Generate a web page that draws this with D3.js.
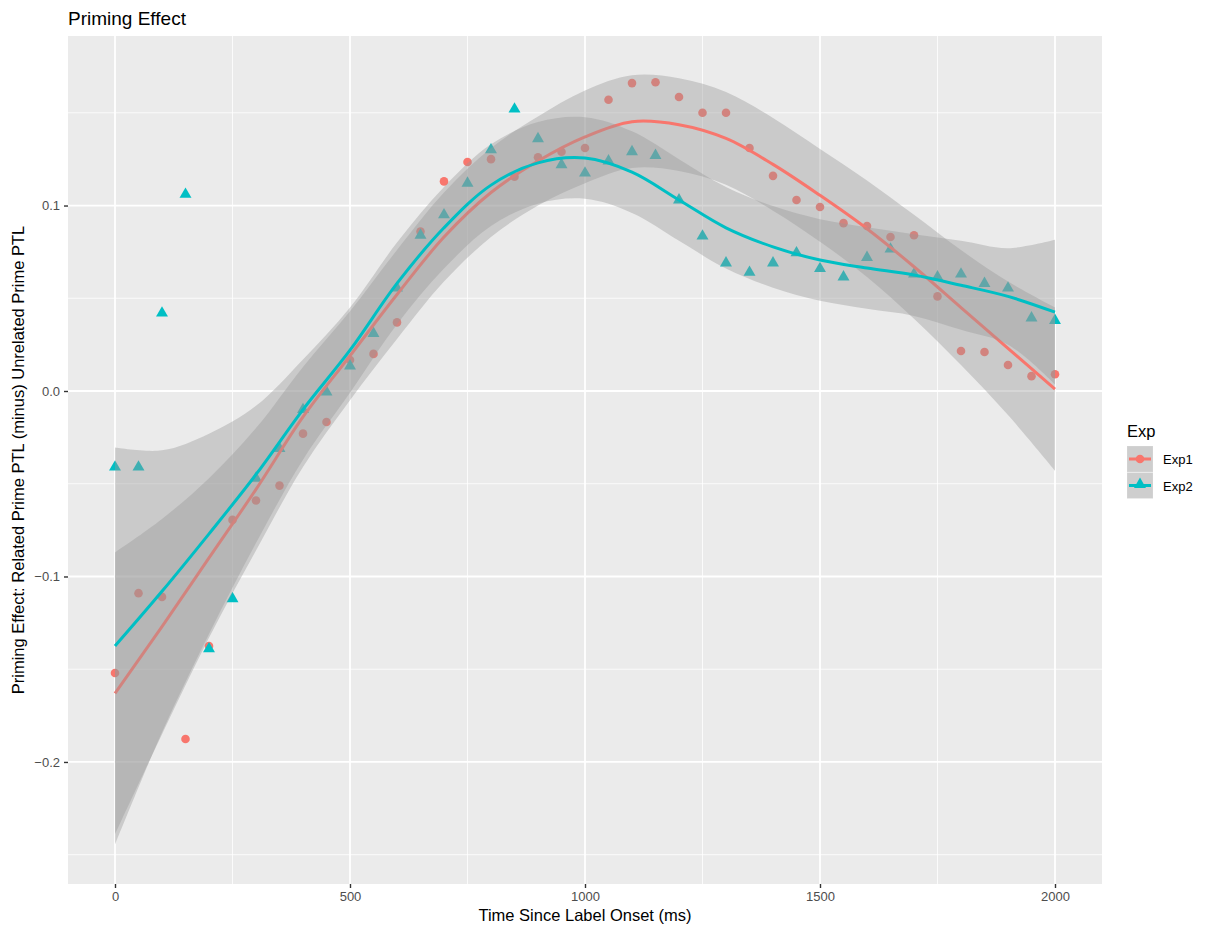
<!DOCTYPE html>
<html>
<head>
<meta charset="utf-8">
<script src="https://cdn.jsdelivr.net/npm/d3@7"></script>
<style>
body { margin: 0; background: #fff; }
text { font-family: "Liberation Sans", Arial, sans-serif; }
</style>
</head>
<body>
<div id="chart"></div>
<script>
// raw points, one every 50 ms
var timePoints = [0, 50, 100, 150, 200, 250, 300, 350, 400, 450, 500, 550, 600, 650, 700, 750, 800, 850, 900, 950,
  1000, 1050, 1100, 1150, 1200, 1250, 1300, 1350, 1400, 1450, 1500, 1550, 1600, 1650, 1700, 1750, 1800, 1850, 1900, 1950, 2000]

var exp1Values = [-0.152, -0.109, -0.111, -0.1876, -0.1375, -0.0695, -0.059, -0.051, -0.023, -0.0167, 0.0167, 0.020, 0.037, 0.086, 0.113, 0.1235, 0.125, 0.1155, 0.126, 0.129,
  0.131, 0.157, 0.166, 0.1665, 0.1585, 0.150, 0.150, 0.131, 0.116, 0.103, 0.0992, 0.0905, 0.089, 0.083, 0.084, 0.051, 0.0216, 0.021, 0.014, 0.008, 0.009]

var exp2Values = [-0.041, -0.041, 0.042, 0.106, -0.139, -0.112, -0.047, -0.031, -0.010, -0.0005, 0.0135, 0.031, 0.0555, 0.084, 0.095, 0.112, 0.130, 0.152, 0.136, 0.122,
  0.1175, 0.124, 0.129, 0.127, 0.103, 0.0835, 0.069, 0.064, 0.069, 0.0745, 0.066, 0.0615, 0.072, 0.0765, 0.063, 0.0615, 0.063, 0.058, 0.0555, 0.0394, 0.038]

// smoothed fits, every 100 ms
var fitTimes = [0, 100, 200, 300, 400, 500, 600, 700, 800, 900, 1000, 1100, 1200, 1300, 1400, 1500, 1600, 1700, 1800, 1900, 2000]

var exp1Fit = [-0.163, -0.127, -0.090, -0.053, -0.014, 0.019, 0.052, 0.083, 0.107, 0.124, 0.137, 0.1452, 0.1436, 0.1362, 0.1222, 0.1055, 0.0875, 0.067, 0.045, 0.023, 0.001]
var exp1Band = [0.076, 0.058, 0.043, 0.033, 0.027, 0.024, 0.024, 0.024, 0.024, 0.024, 0.025, 0.025, 0.025, 0.025, 0.025, 0.025, 0.026, 0.028, 0.031, 0.036, 0.044]

var exp2Fit = [-0.1375, -0.108, -0.077, -0.045, -0.010, 0.022, 0.058, 0.088, 0.111, 0.123, 0.1256, 0.118, 0.103, 0.088, 0.0777, 0.0706, 0.0663, 0.0625, 0.057, 0.051, 0.0425]
var exp2Band = [0.107, 0.076, 0.054, 0.037, 0.027, 0.023, 0.022, 0.022, 0.022, 0.022, 0.022, 0.022, 0.022, 0.022, 0.022, 0.022, 0.022, 0.022, 0.024, 0.026, 0.039]

var xTicks = [0, 500, 1000, 1500, 2000]
var xMinor = [250, 750, 1250, 1750]
var yTicks = [-0.2, -0.1, 0, 0.1]
var yTickLabels = ["\u22120.2", "\u22120.1", "0.0", "0.1"]
var yMinor = [-0.25, -0.15, -0.05, 0.05, 0.15]

var expNames = ["Exp1", "Exp2"]
var expColors = ["#F8766D", "#00BFC4"]

var margin = { top: 36, right: 108, bottom: 44, left: 68 }
var width = 1210 - margin.left - margin.right,
    height = 928 - margin.top - margin.bottom

var svg = d3.select("#chart").append("svg")
    .attr("width", width + margin.left + margin.right)
    .attr("height", height + margin.top + margin.bottom)

var g = svg.append("g")
    .attr("transform", "translate(" + margin.left + "," + margin.top + ")")

var xPositionScale = d3.scaleLinear().domain([-100, 2100]).range([0, width])
var yPositionScale = d3.scaleLinear().domain([-0.2658, 0.1914]).range([height, 0])

// panel + grid
g.append("rect").attr("width", width).attr("height", height).attr("fill", "#EBEBEB")

g.selectAll(".xminor").data(xMinor).enter().append("line")
  .attr("x1", function(d) { return xPositionScale(d) })
  .attr("x2", function(d) { return xPositionScale(d) })
  .attr("y1", 0).attr("y2", height)
  .attr("stroke", "#fff").attr("stroke-width", 0.8)
g.selectAll(".yminor").data(yMinor).enter().append("line")
  .attr("y1", function(d) { return yPositionScale(d) })
  .attr("y2", function(d) { return yPositionScale(d) })
  .attr("x1", 0).attr("x2", width)
  .attr("stroke", "#fff").attr("stroke-width", 0.8)
g.selectAll(".xmajor").data(xTicks).enter().append("line")
  .attr("x1", function(d) { return xPositionScale(d) })
  .attr("x2", function(d) { return xPositionScale(d) })
  .attr("y1", 0).attr("y2", height)
  .attr("stroke", "#fff").attr("stroke-width", 1.8)
g.selectAll(".ymajor").data(yTicks).enter().append("line")
  .attr("y1", function(d) { return yPositionScale(d) })
  .attr("y2", function(d) { return yPositionScale(d) })
  .attr("x1", 0).attr("x2", width)
  .attr("stroke", "#fff").attr("stroke-width", 1.8)

// points
g.selectAll(".p1").data(timePoints).enter().append("circle")
  .attr("cx", function(d) { return xPositionScale(d) })
  .attr("cy", function(d, i) { return yPositionScale(exp1Values[i]) })
  .attr("r", 4.3)
  .attr("fill", expColors[0])

var triangle = d3.symbol().type(d3.symbolTriangle).size(62)
g.selectAll(".p2").data(timePoints).enter().append("path")
  .attr("d", triangle)
  .attr("transform", function(d, i) {
    return "translate(" + xPositionScale(d) + "," + yPositionScale(exp2Values[i]) + ")"
  })
  .attr("fill", expColors[1])

// smooth: ribbon then line, per group
var fits = [
  { fit: exp1Fit, band: exp1Band, color: expColors[0] },
  { fit: exp2Fit, band: exp2Band, color: expColors[1] }
]

var area = d3.area()
  .x(function(d) { return xPositionScale(d.t) })
  .y0(function(d) { return yPositionScale(d.y - d.se) })
  .y1(function(d) { return yPositionScale(d.y + d.se) })
  .curve(d3.curveCatmullRom)

var line = d3.line()
  .x(function(d) { return xPositionScale(d.t) })
  .y(function(d) { return yPositionScale(d.y) })
  .curve(d3.curveCatmullRom)

fits.forEach(function(f) {
  var rows = fitTimes.map(function(t, i) { return { t: t, y: f.fit[i], se: f.band[i] } })
  g.append("path").datum(rows).attr("d", area)
    .attr("fill", "#999999").attr("fill-opacity", 0.4)
  g.append("path").datum(rows).attr("d", line)
    .attr("fill", "none").attr("stroke", f.color).attr("stroke-width", 3)
})

// axes
var xAxis = d3.axisBottom(xPositionScale).tickValues(xTicks).tickSize(4).tickPadding(4)
  .tickFormat(d3.format("d"))
var xg = g.append("g").attr("transform", "translate(0," + height + ")").call(xAxis)
var yAxis = d3.axisLeft(yPositionScale).tickValues(yTicks).tickSize(4).tickPadding(4)
  .tickFormat(function(d, i) { return yTickLabels[i] })
var yg = g.append("g").call(yAxis)

;[xg, yg].forEach(function(a) {
  a.select(".domain").remove()
  a.selectAll(".tick line").attr("stroke", "#333333").attr("stroke-width", 1.4)
  a.selectAll(".tick text").attr("fill", "#4D4D4D").style("font-size", "13px")
    .style("font-family", "'Liberation Sans', Arial, sans-serif")
})

// titles
svg.append("text").attr("x", 68).attr("y", 25)
  .attr("font-size", 19).attr("fill", "#000").text("Priming Effect")

svg.append("text").attr("x", margin.left + width / 2).attr("y", 921)
  .attr("text-anchor", "middle").attr("font-size", 16.5).attr("fill", "#000")
  .text("Time Since Label Onset (ms)")

svg.append("text")
  .attr("transform", "translate(24," + (margin.top + height / 2) + ") rotate(-90)")
  .attr("text-anchor", "middle").attr("font-size", 16.5).attr("fill", "#000")
  .text("Priming Effect: Related Prime PTL (minus) Unrelated Prime PTL")

// legend
var legend = svg.append("g").attr("transform", "translate(1127,437)")
legend.append("text").attr("x", 0).attr("y", 0).attr("font-size", 16.5).text("Exp")

expNames.forEach(function(name, i) {
  var row = legend.append("g").attr("transform", "translate(0," + (9 + i * 26.5) + ")")
  row.append("rect").attr("width", 26).attr("height", 26).attr("fill", "#F2F2F2")
    .attr("stroke", "#fff").attr("stroke-width", 1)
  row.append("rect").attr("width", 26).attr("height", 26).attr("fill", "#999999").attr("fill-opacity", 0.4)
  row.append("line").attr("x1", 2).attr("x2", 24).attr("y1", 13).attr("y2", 13)
    .attr("stroke", expColors[i]).attr("stroke-width", 3)
  if (i == 0) {
    row.append("circle").attr("cx", 13).attr("cy", 13).attr("r", 4.3).attr("fill", expColors[i])
  } else {
    row.append("path").attr("d", triangle).attr("transform", "translate(13,12)").attr("fill", expColors[i])
  }
  row.append("text").attr("x", 36).attr("y", 18).attr("font-size", 13).attr("fill", "#000").text(name)
})
</script>
</body>
</html>
